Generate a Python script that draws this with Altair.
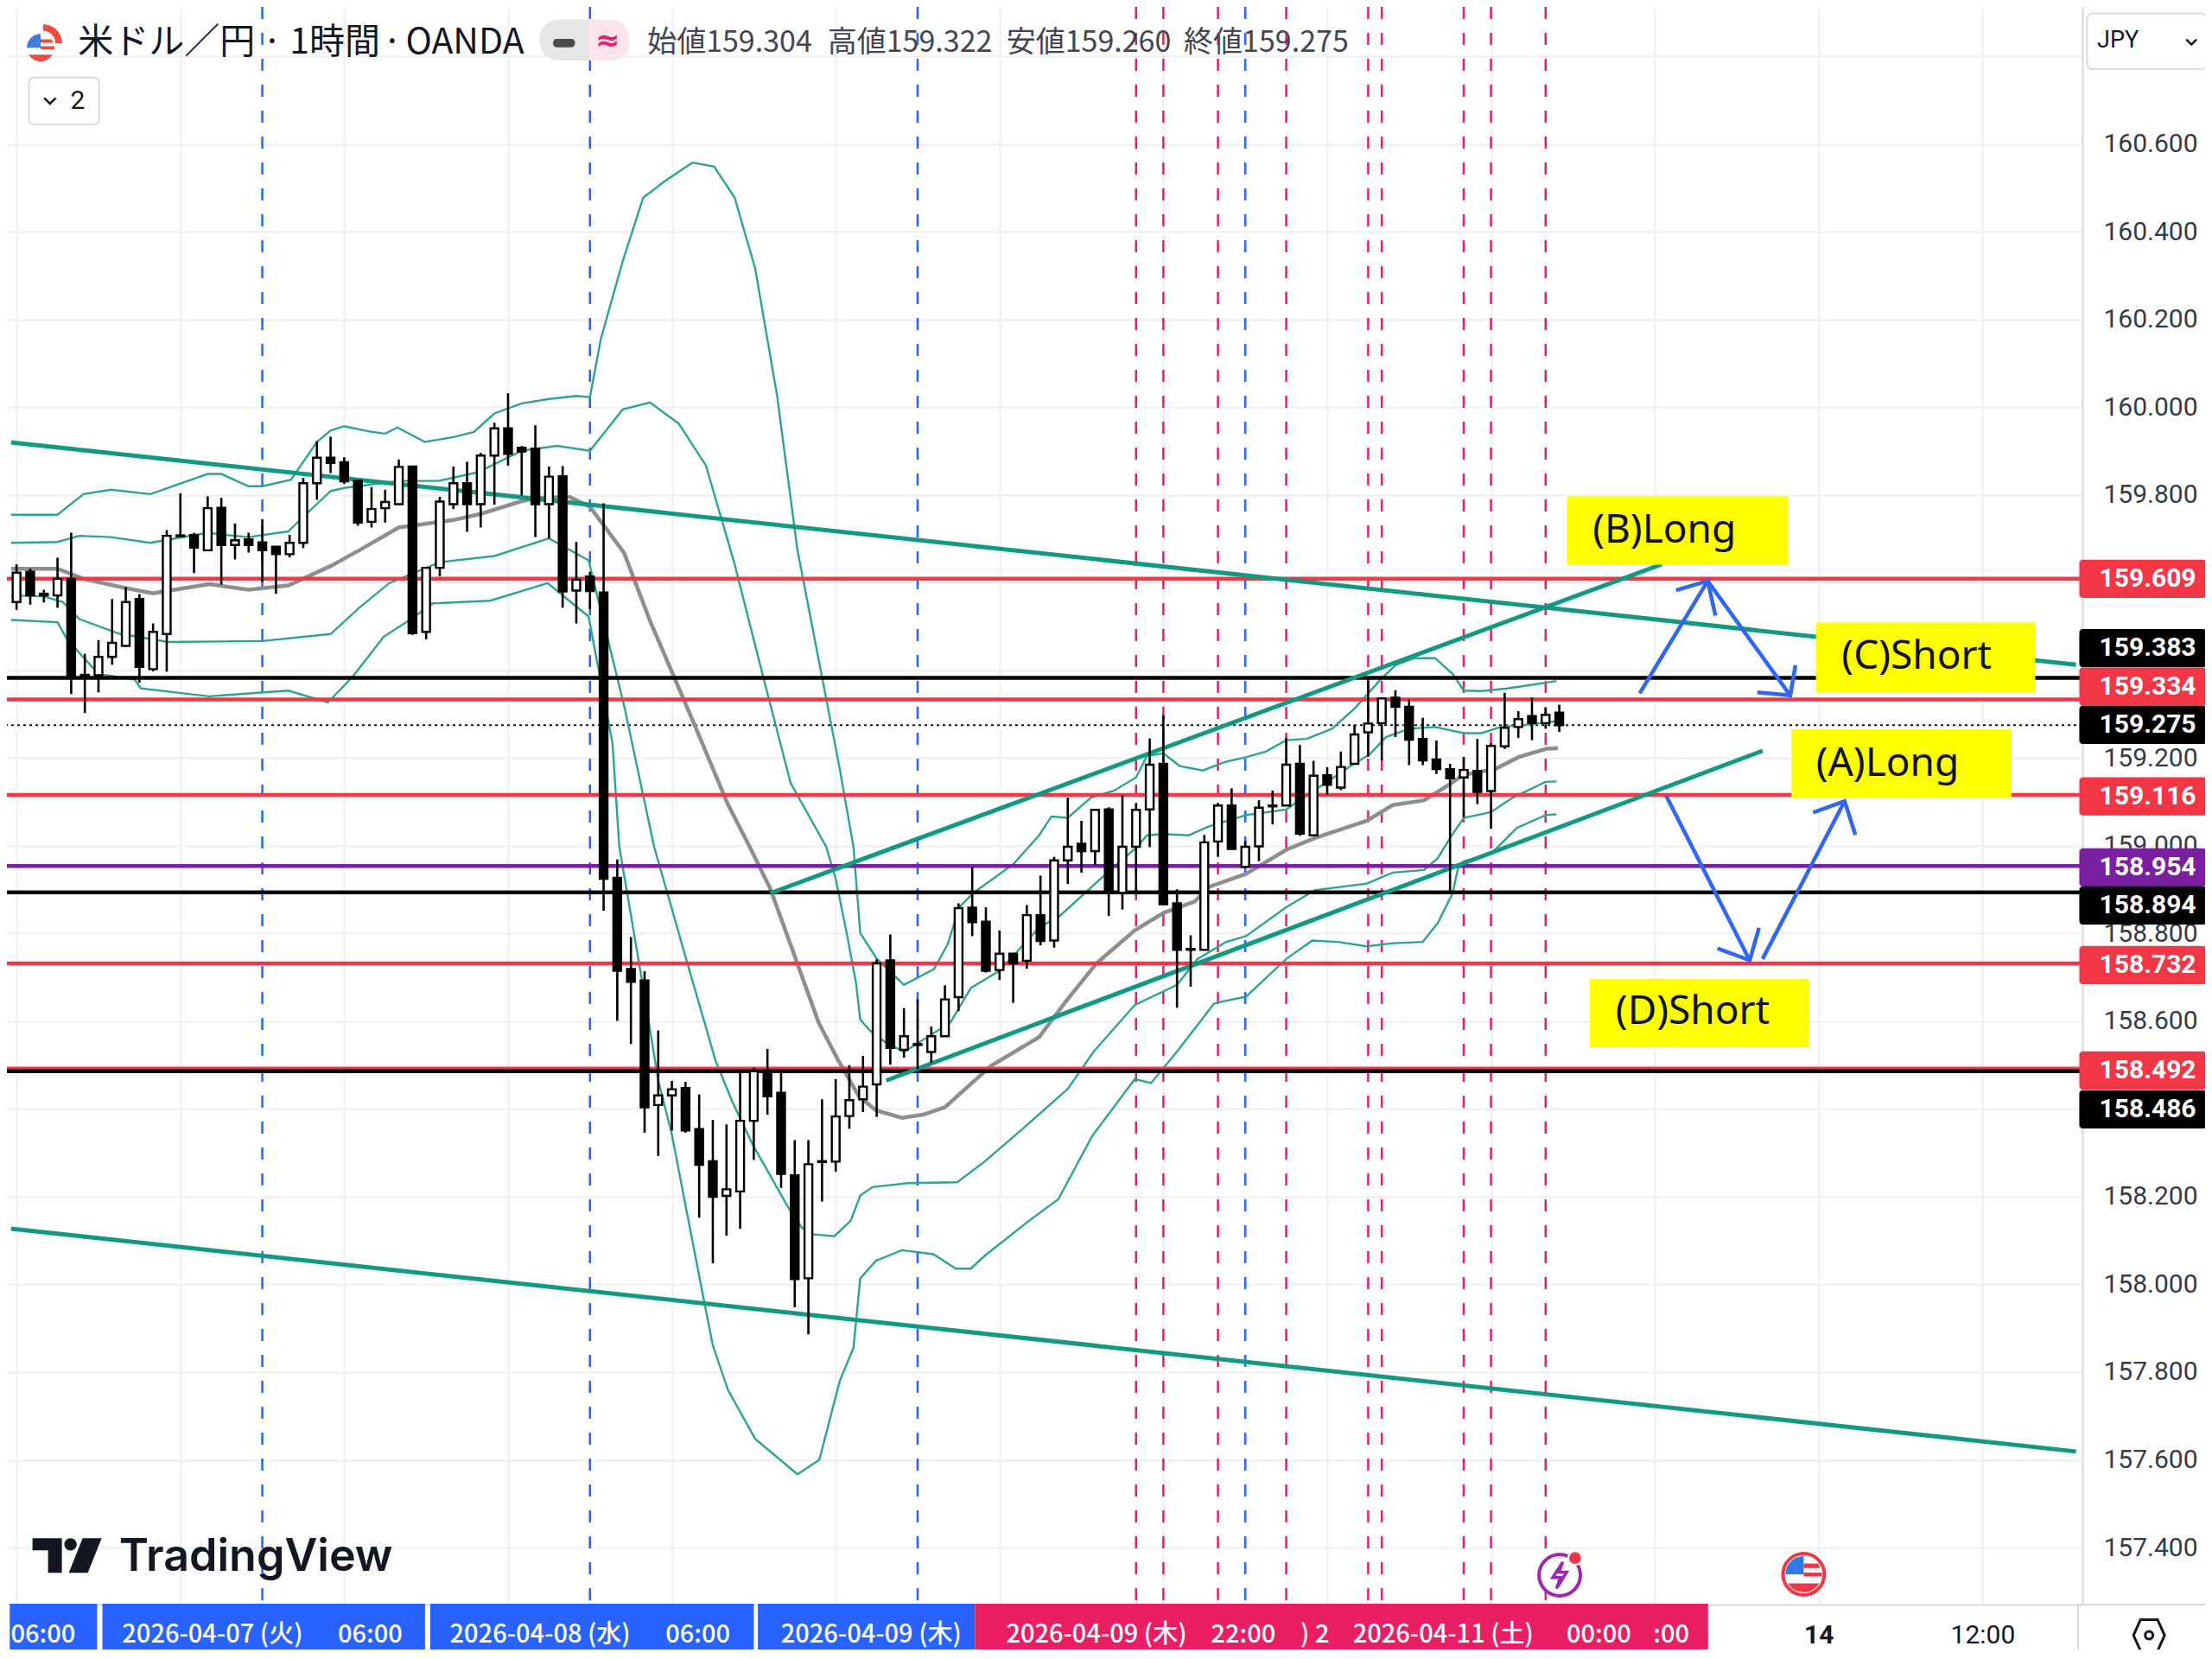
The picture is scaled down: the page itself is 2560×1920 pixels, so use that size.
import altair as alt
import pandas as pd

# ---------- candles (1h bars, index 0..113) ----------
OPEN = [159.556,159.625,159.575,159.571,159.609,159.390,159.389,159.431,159.456,159.563,
159.403,159.483,159.708,159.709,159.674,159.771,159.686,159.699,159.692,159.682,
159.665,159.691,159.827,159.885,159.875,159.833,159.739,159.770,159.779,159.865,
159.488,159.634,159.779,159.827,159.779,159.890,159.952,159.908,159.906,159.779,
159.843,159.582,159.614,159.578,158.927,158.719,158.693,158.409,158.431,158.448,
158.354,158.281,158.202,158.212,158.373,158.486,158.437,158.249,158.014,158.281,
158.280,158.384,158.422,158.456,158.739,158.535,158.548,158.530,158.566,158.655,
158.859,158.827,158.717,158.754,158.738,158.842,158.784,158.967,159.005,158.988,
159.083,158.893,158.998,159.083,159.187,158.869,158.765,158.763,159.010,159.092,
158.952,158.999,159.092,159.092,159.187,159.024,159.161,159.133,159.187,159.259,
159.280,159.338,159.317,159.244,159.197,159.175,159.156,159.171,159.125,159.227,
159.271,159.296,159.280,159.304]
HIGH = [159.642,159.632,159.584,159.657,159.714,159.438,159.469,159.563,159.590,159.574,
159.507,159.720,159.804,159.714,159.797,159.794,159.735,159.714,159.745,159.683,
159.709,159.839,159.923,159.933,159.886,159.834,159.818,159.812,159.881,159.866,
159.634,159.796,159.865,159.876,159.896,159.965,160.032,159.912,159.959,159.865,
159.866,159.693,159.625,159.781,158.969,158.792,158.714,158.579,158.464,158.462,
158.433,158.375,158.365,158.484,158.494,158.537,158.484,158.329,158.329,158.422,
158.468,158.500,158.521,158.741,158.798,158.630,158.650,158.588,158.682,158.869,
158.952,158.860,158.807,158.755,158.865,158.932,158.975,159.110,159.057,159.083,
159.088,159.115,159.098,159.245,159.298,158.901,158.796,159.025,159.098,159.131,
159.011,159.104,159.126,159.246,159.230,159.194,159.179,159.215,159.276,159.379,
159.337,159.355,159.334,159.292,159.240,159.187,159.203,159.244,159.234,159.349,
159.307,159.338,159.315,159.322]
LOW = [159.538,159.550,159.555,159.543,159.346,159.303,159.350,159.413,159.454,159.372,
159.398,159.397,159.705,159.622,159.673,159.596,159.653,159.669,159.602,159.575,
159.658,159.679,159.789,159.850,159.825,159.730,159.726,159.737,159.778,159.481,
159.471,159.615,159.768,159.716,159.726,159.778,159.867,159.799,159.704,159.701,
159.543,159.507,159.540,158.852,158.601,158.548,158.346,158.293,158.351,158.346,
158.152,158.048,158.111,158.127,158.284,158.387,158.220,157.948,157.886,158.189,
158.257,158.355,158.393,158.382,158.501,158.517,158.491,158.506,158.565,158.623,
158.794,158.711,158.694,158.642,158.720,158.773,158.768,158.913,158.939,158.957,
158.840,158.855,158.893,158.997,158.866,158.631,158.679,158.762,158.975,158.992,
158.951,158.965,159.049,159.091,159.023,159.023,159.116,159.127,159.185,159.203,
159.195,159.248,159.184,159.184,159.164,158.893,159.066,159.095,159.039,159.221,
159.246,159.241,159.267,159.260]
CLOSE = [159.623,159.571,159.571,159.609,159.382,159.386,159.431,159.463,159.556,159.408,
159.488,159.707,159.706,159.680,159.770,159.686,159.697,159.686,159.674,159.665,
159.691,159.827,159.885,159.873,159.831,159.737,159.768,159.784,159.864,159.485,
159.634,159.785,159.827,159.779,159.890,159.952,159.894,159.899,159.779,159.842,
159.580,159.607,159.581,158.925,158.715,158.690,158.404,158.431,158.445,158.351,
158.273,158.200,158.217,158.373,158.486,158.429,158.252,158.012,158.274,158.279,
158.383,158.420,158.451,158.732,158.539,158.566,158.546,158.566,158.650,158.858,
158.826,158.715,158.754,158.732,158.842,158.783,158.967,158.998,158.988,159.082,
158.893,158.998,159.082,159.185,158.867,158.763,158.763,159.008,159.092,158.993,
158.998,159.087,159.090,159.185,159.028,159.160,159.139,159.180,159.254,159.279,
159.336,159.317,159.242,159.195,159.175,159.154,159.173,159.123,159.228,159.269,
159.289,159.280,159.299,159.275]

# ---------- Bollinger-type bands: (bar position, price) pairs ----------
BB_UPPER2 = [(-.4,159.755),(3,159.755),(4.9,159.802),(6.9,159.812),(9.8,159.802),(14,159.848),(15,159.848),(17,159.820),(18,159.820),(20.1,159.835),(22,159.921),(23,159.947),(24,159.957),(26,159.944),(27,159.940),(27.9,159.954),(29.9,159.921),(32,159.932),(33.5,159.944),(35,159.986),(37,160.009),(39,160.019),(41,160.026),(42,160.023),(42.8,160.156),(44.4,160.333),(45.9,160.478),(47.5,160.516),(49.5,160.558),(51.1,160.549),(52.6,160.478),(54.1,160.317),(55.7,160.028),(57.2,159.674),(58.8,159.417),(60.3,159.175),(61.3,158.998),(61.8,158.801),(63,158.743),(65,158.683),(67.2,158.719),(68.2,158.775),(69.05,158.860),(70.1,158.893),(73,158.958),(74.9,159.024),(75.8,159.067),(77,159.064),(78.7,159.110),(80.4,159.126),(82,159.156),(82.8,159.205),(84,159.211),(85.2,159.182),(86.9,159.172),(88.6,159.192),(90.05,159.202),(91.5,159.215),(93,159.241),(94.5,159.244),(96.35,159.267),(98,159.313),(99.9,159.379),(101,159.412),(102.4,159.428),(103.9,159.428),(105.2,159.392),(106,159.354),(107.3,159.353),(109.2,159.359),(112,159.372),(112.8,159.376)]
BB_UPPER1 = [(-.4,159.691),(3,159.693),(4.6,159.707),(6.9,159.704),(9.8,159.691),(14,159.714),(15,159.710),(17,159.704),(19.9,159.717),(21.1,159.753),(23,159.809),(24,159.816),(28,159.832),(30.9,159.832),(33.8,159.852),(37,159.901),(39.6,159.912),(42,159.901),(44.4,159.995),(46.4,160.011),(48.5,159.963),(50.5,159.867),(52.6,159.642),(54.7,159.384),(56.7,159.143),(59.3,158.998),(60,158.925),(60.85,158.794),(61.5,158.685),(61.8,158.604),(62.5,158.579),(63.6,158.553),(65,158.530),(68.4,158.597),(69.9,158.676),(72,158.715),(74.9,158.814),(76.4,158.840),(79.55,158.929),(80.6,158.958),(82.1,158.998),(82.8,159.024),(84,159.027),(85.85,159.024),(87.3,159.044),(90.05,159.070),(93,159.083),(95.5,159.136),(98,159.188),(99.1,159.208),(100.3,159.248),(102,159.267),(103.9,159.271),(106,159.257),(107.3,159.257),(108.7,159.271),(110.8,159.277),(112.8,159.284)]
BB_MID = [(-.4,159.632),(3,159.632),(4.9,159.609),(7.8,159.589),(10,159.576),(14.1,159.597),(17,159.584),(19.9,159.594),(23,159.638),(25.1,159.674),(28,159.726),(32,159.743),(34,159.757),(37,159.786),(38,159.793),(40.5,159.796),(42,159.773),(44.5,159.668),(46.4,159.513),(49.5,159.288),(52.1,159.095),(53.7,158.998),(55.2,158.903),(56.9,158.757),(58.75,158.597),(60.2,158.510),(61.7,158.429),(62.95,158.397),(64.85,158.380),(66.4,158.387),(68,158.404),(69.5,158.446),(71.4,158.499),(74.9,158.564),(76.8,158.643),(79.1,158.732),(81.9,158.807),(84,158.847),(86.3,158.873),(87.3,158.906),(90.05,158.936),(93,158.991),(95.1,159.018),(98.9,159.057),(100.8,159.093),(103.1,159.104),(104.75,159.136),(106,159.162),(108.3,159.175),(110,159.202),(112,159.221),(112.9,159.223)]
BB_LOWER1 = [(-.4,159.571),(2,159.569),(3.4,159.556),(4.6,159.517),(7.5,159.484),(11.1,159.465),(18,159.467),(23,159.483),(25.1,159.543),(27.3,159.599),(31,159.647),(35,159.661),(39,159.701),(41.9,159.651),(44.5,159.320),(46.7,158.998),(49.1,158.736),(51.2,158.510),(52.45,158.415),(53.9,158.320),(56.55,158.174),(57.5,158.130),(58.4,158.114),(59.9,158.110),(61.1,158.145),(61.8,158.203),(62.7,158.222),(65.3,158.231),(68.9,158.233),(70.9,158.280),(73.7,158.355),(77,158.446),(78.9,158.531),(81.9,158.637),(85,158.683),(86.5,158.742),(88.6,158.781),(90.05,158.794),(93,158.860),(95.1,158.899),(98.9,158.914),(100.8,158.939),(103.1,158.945),(104.1,158.972),(105,159.018),(106,159.064),(108,159.077),(109.6,159.110),(112,159.146),(112.8,159.147)]
BB_LOWER2 = [(-.4,159.515),(3,159.510),(3.7,159.471),(6,159.392),(8.65,159.379),(9.1,159.359),(14.1,159.341),(19.9,159.354),(22.8,159.327),(24.6,159.385),(26.9,159.477),(28.9,159.517),(30.5,159.553),(34.7,159.559),(38.9,159.599),(41.9,159.523),(43.65,159.234),(44.15,158.998),(45.7,158.714),(47,158.466),(48,158.342),(50.35,157.963),(51,157.861),(52.1,157.760),(54.1,157.648),(57.2,157.567),(58.8,157.600),(60.3,157.780),(61.3,157.855),(61.8,158.014),(62.95,158.054),(64.85,158.078),(67.15,158.069),(68.8,158.036),(69.9,158.036),(70.9,158.065),(74.2,158.146),(76.3,158.194),(78.8,158.339),(81.9,158.468),(83.1,158.459),(85,158.531),(87.7,158.640),(88,158.643),(90.05,158.656),(93,158.742),(94.9,158.784),(96.8,158.781),(98.9,158.771),(100.8,158.778),(103,158.781),(104.1,158.824),(105.2,158.893),(105.6,158.952),(106,158.965),(108,158.982),(109.9,159.041),(112,159.070),(112.8,159.072)]

# ---------- drawings ----------
TRENDS = {"t1": [(-.4,159.920),(150.85,159.413)], "t2": [(-.4,158.127),(150.85,157.619)],
          "t3": [(55.2,158.892),(120.5,159.642)], "t4": [(63.7,158.465),(127.9,159.217)]}
ARROWS = {
 "b":  [(118.89,159.348),(123.87,159.604)], "bh": [(121.55,159.583),(123.87,159.604),(124.44,159.525)],
 "c":  [(123.87,159.604),(129.92,159.343)], "ch": [(127.51,159.350),(129.92,159.343),(130.30,159.412)],
 "d":  [(120.83,159.114),(126.95,158.739)], "dh": [(124.59,158.766),(126.95,158.739),(127.63,158.813)],
 "a":  [(127.89,158.742),(133.90,159.102)], "ah": [(131.59,159.076),(133.90,159.102),(134.69,159.025)],
}
HLINES = [(159.609,"#f23645"),(159.334,"#f23645"),(159.116,"#f23645"),(158.732,"#f23645"),(158.492,"#f23645"),
          (159.383,"#000000"),(158.894,"#000000"),(158.486,"#000000"),(158.954,"#7b1fa2")]
LAST_PRICE = 159.275
VBLUE = [18,42,66,90]
VRED = [82,84,88,93,99,100,106,108,112]
BOXES = [("(B)Long",113.56,129.77,159.797,159.641,115.44,159.720),
         ("(C)Short",131.80,147.86,159.509,159.351,133.68,159.432),
         ("(A)Long",129.99,146.13,159.266,159.109,131.80,159.188),
         ("(D)Short",115.25,131.27,158.697,158.541,117.13,158.622)]
# label, line colour, displayed tag centre
TAGS = [("159.609","#f23645",159.609),("159.383","#000000",159.451),("159.334","#f23645",159.363),
        ("159.275","#000000",159.276),("159.116","#f23645",159.113),("158.954","#7b1fa2",158.951),
        ("158.894","#000000",158.864),("158.732","#f23645",158.728),("158.492","#f23645",158.488),
        ("158.486","#000000",158.399)]
Y_TICKS = [round(157.4 + 0.2*k, 1) for k in range(18)]
X_TICKS = list(range(0, 157, 12))
BANDS = [(-0.5,5.9,"#2962ff"),(6.29,29.92,"#2962ff"),(30.3,54.0,"#2962ff"),(54.3,70.2,"#2962ff"),(70.2,123.9,"#e91e63")]
BAND_TEXT = [("06:00",1.94),("2026-04-07 (火)",14.35),("06:00",25.9),("2026-04-08 (水)",38.35),("06:00",49.9),
             ("2026-04-09 (木)",62.6),("2026-04-09 (木)",79.1),("22:00",89.85),(") 2",95.1),
             ("2026-04-11 (土)",104.5),("00:00",115.9),(":00",121.2)]
TITLE_TEXT = [("米ドル／円",4.5),("·",18.0),("1時間",20.0),("·",26.8),("OANDA",28.5)]
OHLC_TEXT = [("始値159.304",46.2),("高値159.322",59.4),("安値159.260",72.5),("終値159.275",85.5)]

XD = [-0.39, 151.0]
YD = [157.270, 160.913]
xs = alt.Scale(domain=XD, zero=False, nice=False)
ys = alt.Scale(domain=YD, zero=False, nice=False)
def X(f="i", **k): return alt.X(f"{f}:Q", scale=xs, title=None, **k)
def Y(f="p", **k): return alt.Y(f"{f}:Q", scale=ys, title=None, **k)
def pts(d): return pd.DataFrame([{"g": n, "o": k, "i": a, "p": b} for n, l in d.items() for k, (a, b) in enumerate(l)])

layers = []
# axes + grid carrier
axis_df = pd.DataFrame({"i": [XD[0], XD[1]], "p": [YD[0], YD[1]]})
layers.append(alt.Chart(axis_df).mark_point(opacity=0).encode(
    x=alt.X("i:Q", scale=xs, title=None, axis=alt.Axis(
        orient="bottom", values=X_TICKS, grid=True, gridColor="#f0f0f0", gridWidth=2, ticks=False,
        domainColor="#d8d8d8", domainWidth=2, labelFont="Roboto", labelFontSize=30, labelColor="#131722",
        labelPadding=20, labelOverlap=False, labelFlush=False,
        labelFontWeight=alt.expr("datum.value==132?'bold':'normal'"),
        labelExpr="datum.value==132?'14':datum.value==144?'12:00':''")),
    y=alt.Y("p:Q", scale=ys, title=None, axis=alt.Axis(
        orient="right", values=Y_TICKS, grid=True, gridColor="#f0f0f0", gridWidth=2, ticks=False,
        domainColor="#d8d8d8", domainWidth=2, labelFont="Roboto", labelFontSize=30, labelColor="#363a45",
        labelPadding=24, labelOverlap=False, labelFlush=False,
        labelExpr="indexof([159.6,159.4,158.4,160.8],round(datum.value*10)/10)>=0?'':format(datum.value,'.3f')"))))

# vertical dashed session lines
vdf = pd.DataFrame([{"i": v, "c": "#2962ff"} for v in VBLUE] + [{"i": v, "c": "#e91e63"} for v in VRED])
layers.append(alt.Chart(vdf).mark_rule(strokeWidth=2.5, strokeDash=[14, 16]).encode(
    x=X(), color=alt.Color("c:N", scale=None)))

# horizontal levels
hdf = pd.DataFrame({"p": [h[0] for h in HLINES], "c": [h[1] for h in HLINES]})
layers.append(alt.Chart(pd.DataFrame({"p": [LAST_PRICE]})).mark_rule(strokeWidth=2, color="#111111", strokeDash=[3, 4]).encode(y=Y()))

# bands
for name, line in [("u2", BB_UPPER2), ("u1", BB_UPPER1), ("l1", BB_LOWER1), ("l2", BB_LOWER2)]:
    d = pd.DataFrame(line, columns=["i", "p"]); d["o"] = range(len(d))
    layers.append(alt.Chart(d).mark_line(color="#2ba590", strokeWidth=2.4).encode(x=X(), y=Y(), order="o:Q"))
d = pd.DataFrame(BB_MID, columns=["i", "p"]); d["o"] = range(len(d))
layers.append(alt.Chart(d).mark_line(color="#8e8e8e", strokeWidth=4.5).encode(x=X(), y=Y(), order="o:Q"))

layers.append(alt.Chart(hdf).mark_rule(strokeWidth=4.5).encode(y=Y(), color=alt.Color("c:N", scale=None)))

# trend lines
layers.append(alt.Chart(pts(TRENDS)).mark_line(color="#119a83", strokeWidth=5).encode(x=X(), y=Y(), detail="g:N", order="o:Q"))

# candles
cdf = pd.DataFrame({"i": range(len(OPEN)), "o": OPEN, "h": HIGH, "l": LOW, "c": CLOSE})
cdf["fill"] = ["#ffffff" if c > o else "#000000" for o, c in zip(OPEN, CLOSE)]
layers.append(alt.Chart(cdf).mark_rule(color="#000000", strokeWidth=2.6).encode(x=X(), y=Y("h"), y2="l:Q"))
layers.append(alt.Chart(cdf).mark_bar(size=9, stroke="#000000", strokeWidth=2.4, orient="vertical").encode(
    x=X(), y=Y("o"), y2="c:Q", fill=alt.Fill("fill:N", scale=None)))

# arrows
layers.append(alt.Chart(pts(ARROWS)).mark_line(color="#2f66f5", strokeWidth=4.5).encode(x=X(), y=Y(), detail="g:N", order="o:Q"))

# yellow boxes
bdf = pd.DataFrame(BOXES, columns=["t", "x1", "x2", "y1", "y2", "tx", "ty"])
layers.append(alt.Chart(bdf).mark_rect(color="#ffff00").encode(x=X("x1"), x2="x2:Q", y=Y("y1"), y2="y2:Q"))
layers.append(alt.Chart(bdf).mark_text(align="left", baseline="middle", font="Noto Sans", fontSize=46, color="#111111").encode(
    x=X("tx"), y=Y("ty"), text="t:N"))

# price tags
tdf = pd.DataFrame(TAGS, columns=["t", "c", "p"])
tdf["y1"] = tdf["p"] + 0.0436; tdf["y2"] = tdf["p"] - 0.0436; tdf["x1"] = 151.09; tdf["x2"] = 160.4; tdf["tx"] = 156.1
layers.append(alt.Chart(tdf).mark_rect(cornerRadius=4).encode(x=X("x1"), x2="x2:Q", y=Y("y1"), y2="y2:Q", color=alt.Color("c:N", scale=None)))
layers.append(alt.Chart(tdf).mark_text(align="center", baseline="middle", font="Roboto", fontSize=30, fontWeight="bold", color="#ffffff").encode(
    x=X("tx"), y=Y("p"), text="t:N"))

# bottom date bands
bd = pd.DataFrame(BANDS, columns=["x1", "x2", "c"]); bd["y1"] = 157.272; bd["y2"] = 157.146
layers.append(alt.Chart(bd).mark_rect().encode(x=X("x1"), x2="x2:Q", y=Y("y1"), y2="y2:Q", color=alt.Color("c:N", scale=None)))
bt = pd.DataFrame(BAND_TEXT, columns=["t", "i"]); bt["p"] = 157.201
layers.append(alt.Chart(bt).mark_text(align="center", baseline="middle", font="Noto Sans CJK JP", fontSize=29, fontWeight=500, color="#ffffff").encode(
    x=X(), y=Y(), text="t:N"))
# axis frame extensions
layers.append(alt.Chart(pd.DataFrame({"i": [151.0], "p": [157.27], "p2": [157.146]})).mark_rule(color="#d8d8d8", strokeWidth=2).encode(x=X(), y=Y(), y2="p2:Q"))
layers.append(alt.Chart(pd.DataFrame({"i": [151.0], "i2": [160.4], "p": [157.27]})).mark_rule(color="#d8d8d8", strokeWidth=2).encode(x=X(), x2="i2:Q", y=Y()))

# header
tt = pd.DataFrame(TITLE_TEXT, columns=["t", "i"]); tt["p"] = 160.831
layers.append(alt.Chart(tt).mark_text(align="left", baseline="middle", font="Noto Sans CJK JP", fontSize=41, color="#131722").encode(x=X(), y=Y(), text="t:N"))
oh = pd.DataFrame(OHLC_TEXT, columns=["t", "i"]); oh["p"] = 160.831
layers.append(alt.Chart(oh).mark_text(align="left", baseline="middle", font="Noto Sans CJK JP", fontSize=34, color="#434651").encode(x=X(), y=Y(), text="t:N"))
# status pill
pill = pd.DataFrame([(38.3, 41.95, "#e6e6e6", 1), (41.95, 44.9, "#fce4ec", 0)], columns=["x1", "x2", "c", "left"])
pill["y1"] = 160.884; pill["y2"] = 160.791
layers.append(alt.Chart(pill[pill.left == 1]).mark_rect(cornerRadiusTopLeft=22, cornerRadiusBottomLeft=22).encode(x=X("x1"), x2="x2:Q", y=Y("y1"), y2="y2:Q", color=alt.Color("c:N", scale=None)))
layers.append(alt.Chart(pill[pill.left == 0]).mark_rect(cornerRadiusTopRight=22, cornerRadiusBottomRight=22).encode(x=X("x1"), x2="x2:Q", y=Y("y1"), y2="y2:Q", color=alt.Color("c:N", scale=None)))
layers.append(alt.Chart(pd.DataFrame({"x1": [39.3], "x2": [40.9], "y1": [160.840], "y2": [160.821]})).mark_rect(color="#4a4a4a", cornerRadius=4).encode(x=X("x1"), x2="x2:Q", y=Y("y1"), y2="y2:Q"))
layers.append(alt.Chart(pd.DataFrame({"t": ["≈"], "i": [43.3], "p": [160.835]})).mark_text(font="DejaVu Sans", fontSize=34, fontWeight="bold", color="#e91e63", baseline="middle").encode(x=X(), y=Y(), text="t:N"))
# collapse button and currency box
frames = pd.DataFrame([(0.9, 6.05, 160.752, 160.645), (151.66, 160.4, 160.898, 160.771)], columns=["x1", "x2", "y1", "y2"])
layers.append(alt.Chart(frames).mark_rect(fill="#ffffff", stroke="#dcdcdc", strokeWidth=2, cornerRadius=6).encode(x=X("x1"), x2="x2:Q", y=Y("y1"), y2="y2:Q"))
misc = pd.DataFrame([("2", 3.95, 160.699, 30), ("JPY", 152.4, 160.836, 27)], columns=["t", "i", "p", "s"])
layers.append(alt.Chart(misc).mark_text(align="left", baseline="middle", font="Roboto", color="#131722").encode(x=X(), y=Y(), text="t:N", size=alt.Size("s:Q", scale=None)))

# logo text
layers.append(alt.Chart(pd.DataFrame({"t": ["TradingView"], "i": [7.5], "p": [157.347]})).mark_text(
    align="left", baseline="alphabetic", font="Inter", fontSize=52, fontWeight=600, color="#131722").encode(x=X(), y=Y(), text="t:N"))

# pictograms
FLAG_BLUE = "M-1,0A1,1 0 0 1 0,-1L0,0Z"
FLAG_RED = "M0,-0.6L0.8,-0.6L0.92,-0.35L0,-0.35ZM0,-0.1L1,-0.1L1,0.12L0,0.12ZM-0.86,0.5L0.86,0.5A1,1 0 0 1 -0.86,0.5Z"
ARC = "M0,-1A1,1 0 0 1 1,0L0.65,0A0.65,0.65 0 0 0 0,-0.65Z"
CHEVRON = "M-1,-0.5L0,0.5L1,-0.5"
BOLT = "M0.2,-0.85L-0.45,0.15L0.05,0.15L-0.2,0.85L0.45,-0.2L-0.05,-0.2Z"
HEX = "M-0.55,-1L0.55,-1L1,0L0.55,1L-0.55,1L-1,0Z"
LOGO = ("M-1,-0.5L-0.15,-0.5L-0.15,0.5L-0.55,0.5L-0.55,-0.15L-1,-0.15Z"
        "M0.28,-0.32A0.18,0.18 0 1 1 -0.08,-0.32A0.18,0.18 0 1 1 0.28,-0.32Z"
        "M0.45,-0.5L1,-0.5L0.6,0.5L0.05,0.5Z")
ICONS = [
 # pos, price, shape, size, fill, stroke, strokeWidth
 (1.95, 160.83, ARC, 1936, "#ef4b3f", "#ef4b3f", 0),
 (1.76, 160.82, "circle", 900, "#ffffff", "#ffffff", 0),
 (1.76, 160.82, FLAG_RED, 1024, "#ef4b3f", "#ef4b3f", 0),
 (1.76, 160.82, FLAG_BLUE, 1024, "#3f7be0", "#3f7be0", 0),
 (2.45, 160.699, CHEVRON, 180, "transparent", "#131722", 2.5),
 (159.3, 160.833, CHEVRON, 140, "transparent", "#131722", 2.5),
 (3.7, 157.382, LOGO, 6400, "#131722", "#131722", 0),
 (113.03, 157.337, "circle", 2290, "#ffffff", "#9c27b0", 4),
 (113.03, 157.337, BOLT, 1300, "transparent", "#9c27b0", 3.5),
 (114.16, 157.376, "circle", 250, "#f23645", "#ffffff", 2),
 (130.9, 157.339, "circle", 2290, "#ffffff", "#f23645", 4),
 (130.9, 157.339, FLAG_RED, 1760, "#f23645", "#f23645", 0),
 (130.9, 157.339, FLAG_BLUE, 1760, "#2f7be6", "#2f7be6", 0),
 (156.2, 157.2, HEX, 1296, "transparent", "#131722", 3),
 (156.2, 157.2, "circle", 80, "transparent", "#131722", 3),
]
ic = pd.DataFrame(ICONS, columns=["i", "p", "sh", "sz", "fl", "st", "sw"])
layers.append(alt.Chart(ic).mark_point(opacity=1).encode(
    x=X(), y=Y(), shape=alt.Shape("sh:N", scale=None), size=alt.Size("sz:Q", scale=None),
    fill=alt.Fill("fl:N", scale=None), stroke=alt.Stroke("st:N", scale=None), strokeWidth=alt.StrokeWidth("sw:Q", scale=None)))

chart = alt.layer(*layers).properties(
    width=2402, height=1849, background="#ffffff",
    padding={"left": 0, "top": 0, "right": 142, "bottom": 52},
    autosize=alt.AutoSizeParams(type="none", contains="content"),
).configure_view(stroke=None)

chart.save("out.html", embed_options={"renderer": "svg", "actions": False})
